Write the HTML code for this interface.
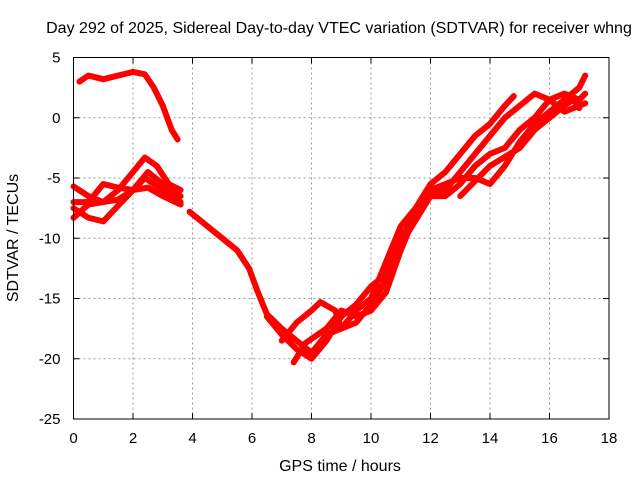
<!DOCTYPE html>
<html><head><meta charset="utf-8"><style>
body{margin:0;background:#fff}
svg text{font-family:"Liberation Sans",sans-serif;font-size:15px;fill:#000}
</style></head><body>
<svg width="640" height="480" id="chart">
<text x="339" y="33" text-anchor="middle" style="font-size:16px">Day 292 of 2025, Sidereal Day-to-day VTEC variation (SDTVAR) for receiver whng</text>
<text x="340" y="471" text-anchor="middle" style="font-size:16px">GPS time / hours</text>
<text transform="translate(18,238) rotate(-90)" text-anchor="middle" style="font-size:16px">SDTVAR / TECUs</text>
<g id="grid"></g>
<g id="series"></g>
<rect x="73.5" y="57.5" width="535.5" height="361.5" fill="none" stroke="#000" stroke-width="1"/>
</svg>
<script>
const xTicks=[0,2,4,6,8,10,12,14,16,18];
const yTicks=[5,0,-5,-10,-15,-20,-25];
const trackA=[[0.2,3],[0.5,3.5],[1,3.2],[1.5,3.5],[2,3.8],[2.4,3.6],[2.7,2.5],[3,1],[3.3,-1],[3.5,-1.8]];
const trackB=[[0,-5.7],[0.5,-6.5],[1,-7],[1.5,-6],[2,-4.5],[2.4,-3.3],[2.8,-4],[3.2,-5.5],[3.6,-6]];
const trackC=[[0,-7.5],[0.5,-8.3],[1,-8.6],[1.5,-7.3],[2,-6],[2.4,-5],[3,-6],[3.6,-7]];
const trackD=[[0,-8.3],[0.5,-7.2],[1,-7],[1.5,-6.8],[2,-6],[2.5,-5.8],[3,-6.5],[3.6,-7.2]];
const trackE=[[0,-7],[0.5,-7],[1,-5.5],[1.5,-5.8],[2,-6],[2.5,-4.5],[3,-5.5],[3.6,-6.5]];
const trackMain=[[3.9,-7.8],[4.5,-9],[5,-10],[5.5,-11],[5.9,-12.5],[6.2,-14.5],[6.5,-16.3],[7,-17.5],[7.5,-18.5],[8,-19.5],[8.5,-18],[9,-17.5],[9.5,-16],[10,-15],[10.5,-12],[11,-9],[11.5,-7.5],[12,-5.5],[12.5,-4.5],[13,-3],[13.5,-1.5],[14,-0.5],[14.5,1],[14.8,1.8]];
const track2=[[6.5,-16.5],[7,-18],[7.5,-19.2],[8,-20],[8.5,-18.5],[9,-16.5],[9.5,-15.5],[10,-14],[10.5,-13],[11,-10],[11.5,-8],[12,-6],[12.5,-5.5],[13,-5],[13.5,-5],[14,-5.5],[14.5,-4],[15,-2],[15.5,-0.5],[16,0.5],[16.5,1.5],[17,2.5],[17.2,3.5]];
const track3=[[7,-18.5],[7.5,-17],[8,-16],[8.3,-15.3],[8.8,-16],[9,-17.5],[9.5,-17],[10,-15.5],[10.5,-13.5],[11,-10.5],[11.5,-8.5],[12,-6.5],[12.5,-6],[13,-4.5],[13.5,-3],[14,-1.5],[14.5,0],[15,1],[15.5,2],[16,1.5],[16.5,0.5],[17,1],[17.2,1.2]];
const track4=[[7.4,-20.3],[7.8,-18.7],[8.5,-17.5],[9,-16],[9.5,-16.5],[10,-16],[10.5,-14.5],[11,-11],[11.5,-8],[12,-6.5],[12.5,-6.5],[13,-5.5],[13.5,-4],[14,-3],[14.5,-2.5],[15,-1],[15.5,0],[16,1.5],[16.5,2],[17,1.5],[17.2,2]];
const track5=[[13,-6.5],[14,-4],[15,-2.5],[15.5,-1],[16,0],[16.5,1],[16.8,1.5],[17,0.8]];
const tracks=[trackA,trackB,trackC,trackD,trackE,trackMain,track2,track3,track4,track5];
const L=73.5,R=609,T=57.5,B=419;
const xs=v=>L+(v-0)/18*(R-L);
const ys=v=>T+(5-v)/30*(B-T);
const NS='http://www.w3.org/2000/svg';
const grid=document.getElementById('grid'),ser=document.getElementById('series');
function mk(tag,attrs,parent){const e=document.createElementNS(NS,tag);for(const k in attrs)e.setAttribute(k,attrs[k]);parent.appendChild(e);return e;}
xTicks.forEach(t=>{const x=xs(t);
 if(t>0&&t<18){const g=mk('line',{x1:x,x2:x,y1:T,y2:B,stroke:'#999','stroke-dasharray':'2,3'},grid);}
 const tk=mk('line',{x1:x,x2:x,y1:B,y2:B-6,stroke:'#000'},grid);
 const tk2=mk('line',{x1:x,x2:x,y1:T,y2:T+6,stroke:'#000'},grid);
 const lb=mk('text',{x:x,y:B+24,'text-anchor':'middle'},grid);lb.textContent=t;});
yTicks.forEach(t=>{const y=ys(t);
 if(t<5&&t>-25){const g=mk('line',{x1:L,x2:R,y1:y,y2:y,stroke:'#999','stroke-dasharray':'2,3'},grid);}
 const tk=mk('line',{x1:L,x2:L+6,y1:y,y2:y,stroke:'#000'},grid);
 const tk2=mk('line',{x1:R,x2:R-6,y1:y,y2:y,stroke:'#000'},grid);
 const lb=mk('text',{x:L-13,y:y+5,'text-anchor':'end'},grid);lb.textContent=t;});
tracks.forEach(tr=>{const p=mk('polyline',{points:tr.map(d=>xs(d[0])+','+ys(d[1])).join(' '),fill:'none',stroke:'#f00','stroke-width':6,'stroke-linejoin':'round','stroke-linecap':'round'},ser);
 
 });
</script>
</body></html>
